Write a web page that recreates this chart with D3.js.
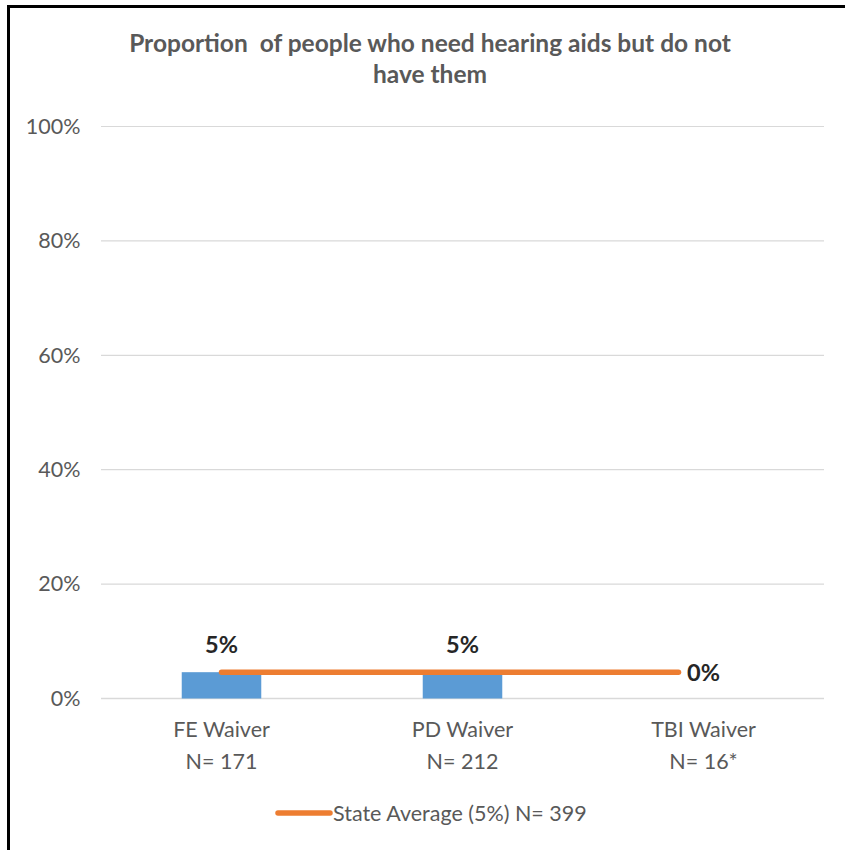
<!DOCTYPE html>
<html><head><meta charset="utf-8">
<script src="https://cdn.jsdelivr.net/npm/d3@7/dist/d3.min.js"></script>
<style>body{margin:0;background:#fff}svg{display:block}</style>
</head><body>
<script>
const categories = ["FE Waiver", "PD Waiver", "TBI Waiver"];
const sampleLabels = ["N= 171", "N= 212", "N= 16*"];
const barValues = [0.046, 0.046, 0];
const barLabels = ["5%", "5%", "0%"];
const stateAverage = [0.046, 0.046, 0.046];
const yTicks = [0, 0.2, 0.4, 0.6, 0.8, 1.0];
const titleLines = ["Proportion  of people who need hearing aids but do not", "have them"];
const legendLabel = "State Average (5%) N= 399";

const W = 845, H = 850;
const font = "Lato, 'Open Sans', sans-serif";
const svg = d3.select("body").append("svg").attr("width", W).attr("height", H);

svg.append("rect").attr("width", W).attr("height", H).attr("fill", "#fff");
// frame
svg.append("line").attr("x1", 8.5).attr("x2", 8.5).attr("y1", 5).attr("y2", H).attr("stroke", "#000").attr("stroke-width", 3);
svg.append("line").attr("x1", 7).attr("x2", W).attr("y1", 6.5).attr("y2", 6.5).attr("stroke", "#000").attr("stroke-width", 3);

const margin = {left: 101, right: 21, top: 126.5, bottom: 151.5};
const x = d3.scaleBand().domain(categories).range([margin.left, W - margin.right]).paddingInner(0.67).paddingOuter(0.335);
const xc = d3.scaleBand().domain(categories).range([margin.left, W - margin.right]);
const y = d3.scaleLinear().domain([0, 1]).range([H - margin.bottom, margin.top]);

// title
svg.append("g").selectAll("text").data(titleLines).join("text")
  .attr("x", 430).attr("y", (d, i) => 52 + i * 31)
  .attr("text-anchor", "middle").attr("font-family", font).attr("font-weight", "bold")
  .attr("font-size", 24.5).attr("fill", "#595959").attr("xml:space", "preserve").text(d => d);

// gridlines
svg.append("g").selectAll("line").data(yTicks).join("line")
  .attr("x1", margin.left).attr("x2", W - margin.right)
  .attr("y1", d => y(d)).attr("y2", d => y(d))
  .attr("stroke", "#d9d9d9").attr("stroke-width", d => d === 0 ? 1.6 : 1.2);

// y axis labels
const yAxis = d3.axisLeft(y).tickValues(yTicks).tickFormat(d3.format(".0%")).tickSize(0).tickPadding(20.5);
const ya = svg.append("g").attr("transform", `translate(${margin.left},0)`).call(yAxis);
ya.select(".domain").remove();
ya.selectAll("text").attr("font-family", font).attr("font-size", 21.5).attr("fill", "#595959");

// bars
svg.append("g").selectAll("rect").data(categories).join("rect")
  .attr("x", d => x(d)).attr("width", x.bandwidth())
  .attr("y", (d, i) => y(barValues[i])).attr("height", (d, i) => y(0) - y(barValues[i]))
  .attr("fill", "#5b9bd5");

// state average line
const lineX = (d, i) => xc(d) + xc.bandwidth() / 2 - (i === categories.length - 1 ? 25 : 0);
svg.append("path")
  .attr("d", d3.line().x((d, i) => lineX(categories[i], i)).y(d => y(d))(stateAverage))
  .attr("fill", "none").attr("stroke", "#ed7d31").attr("stroke-width", 5.5).attr("stroke-linecap", "round");

// bar labels
svg.append("g").selectAll("text").data(categories).join("text")
  .attr("x", d => xc(d) + xc.bandwidth() / 2)
  .attr("y", (d, i) => i === 2 ? y(stateAverage[i]) + 9 : y(barValues[i]) - 19)
  .attr("text-anchor", "middle").attr("font-family", font).attr("font-weight", "bold")
  .attr("font-size", 23.5).attr("fill", "#262626").text((d, i) => barLabels[i]);

// x labels
const xl = svg.append("g").selectAll("g").data(categories).join("g")
  .attr("transform", d => `translate(${xc(d) + xc.bandwidth() / 2},0)`);
xl.append("text").attr("y", y(0) + 38).attr("text-anchor", "middle").attr("font-family", font)
  .attr("font-size", 21.5).attr("fill", "#595959").text(d => d);
xl.append("text").attr("y", y(0) + 70).attr("text-anchor", "middle").attr("font-family", font)
  .attr("font-size", 21.5).attr("fill", "#595959").text((d, i) => sampleLabels[i]);

// legend
const lg = svg.append("g").attr("transform", "translate(278,813)");
lg.append("line").attr("x1", 0).attr("x2", 52).attr("y1", 0).attr("y2", 0)
  .attr("stroke", "#ed7d31").attr("stroke-width", 5.5).attr("stroke-linecap", "round");
lg.append("text").attr("x", 55).attr("y", 7.5).attr("font-family", font).attr("font-size", 21.5)
  .attr("fill", "#595959").text(legendLabel);
</script>
</body></html>
